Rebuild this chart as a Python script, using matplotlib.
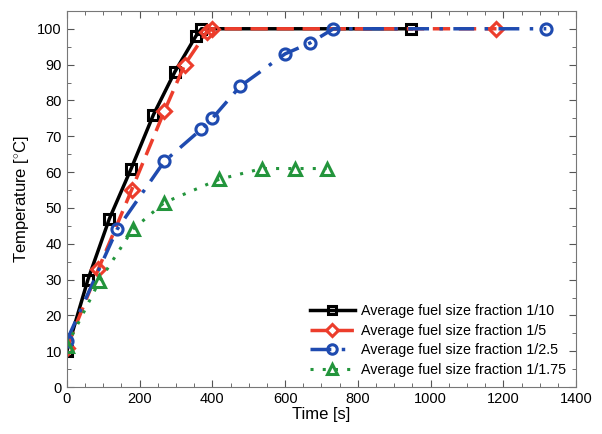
import matplotlib
matplotlib.use('Agg')
import matplotlib.pyplot as plt
from matplotlib.ticker import MultipleLocator

plt.rcParams['font.family'] = ['Liberation Sans', 'DejaVu Sans']
plt.rcParams['mathtext.fontset'] = 'custom'
plt.rcParams['mathtext.rm'] = 'Liberation Sans'

# time [s] and temperature [C] per fuel size fraction
t_10 = [0, 58, 117, 177, 238, 297, 355, 370, 947]
T_10 = [10, 30, 47, 61, 76, 88, 98, 100, 100]

t_5 = [0, 87, 178, 268, 324, 384, 400, 1181]
T_5 = [11, 33, 55, 77, 90, 99, 100, 100]

t_25 = [0, 138, 268, 370, 400, 477, 600, 668, 733, 1318]
T_25 = [13, 44, 63, 72, 75, 84, 93, 96, 100, 100]

t_175 = [0, 89, 181, 268, 419, 537, 627, 714]
T_175 = [11.5, 29.5, 44, 51.5, 58, 61, 61, 61]

labels = ['Average fuel size fraction 1/10', 'Average fuel size fraction 1/5',
          'Average fuel size fraction 1/2.5', 'Average fuel size fraction 1/1.75']

fig = plt.figure(figsize=(6.02, 4.34), dpi=100)
ax = fig.add_axes([0.111, 0.108, 0.846, 0.867])

ms = 7
mew = 2.2
ax.plot(t_10, T_10, color='black', linestyle='-', linewidth=2.5, marker='s',
        markersize=ms, markerfacecolor='none', markeredgewidth=mew, label=labels[0])
ax.plot(t_5, T_5, color='#ec3d2c', linestyle=(0, (5, 2.5)), linewidth=2.5, marker='D',
        markersize=ms, markerfacecolor='none', markeredgewidth=mew, label=labels[1])
ax.plot(t_25, T_25, color='#1f4bb0', linestyle=(0, (6, 3, 1, 3)), linewidth=2.5, marker='o',
        markersize=ms + 1, markerfacecolor='none', markeredgewidth=mew, label=labels[2])
ax.plot(t_175, T_175, color='#23953c', linestyle=(0, (1, 3)), linewidth=2.2, marker='^',
        markersize=ms + 1.5, markerfacecolor='none', markeredgewidth=mew, label=labels[3])

ax.set_xlim(0, 1400)
ax.set_ylim(0, 105)
ax.xaxis.set_major_locator(MultipleLocator(200))
ax.xaxis.set_minor_locator(MultipleLocator(50))
ax.yaxis.set_major_locator(MultipleLocator(10))
ax.yaxis.set_minor_locator(MultipleLocator(5))
ax.tick_params(which='both', direction='in', top=True, right=True, labelsize=10.5, color='#555555')
ax.tick_params(which='major', length=5)
ax.tick_params(which='minor', length=3)
for s in ax.spines.values():
    s.set_color('#777777')

ax.set_xlabel('Time [s]', fontsize=12, labelpad=1)
ax.set_ylabel('Temperature [$^{\\circ}$C]', fontsize=12, labelpad=4)

ax.legend(loc='lower right', frameon=False, fontsize=10.3, handlelength=3.2,
          borderaxespad=0.3, labelspacing=0.4, handletextpad=0.4, markerscale=0.85)

fig.savefig('out.png', dpi=100)
